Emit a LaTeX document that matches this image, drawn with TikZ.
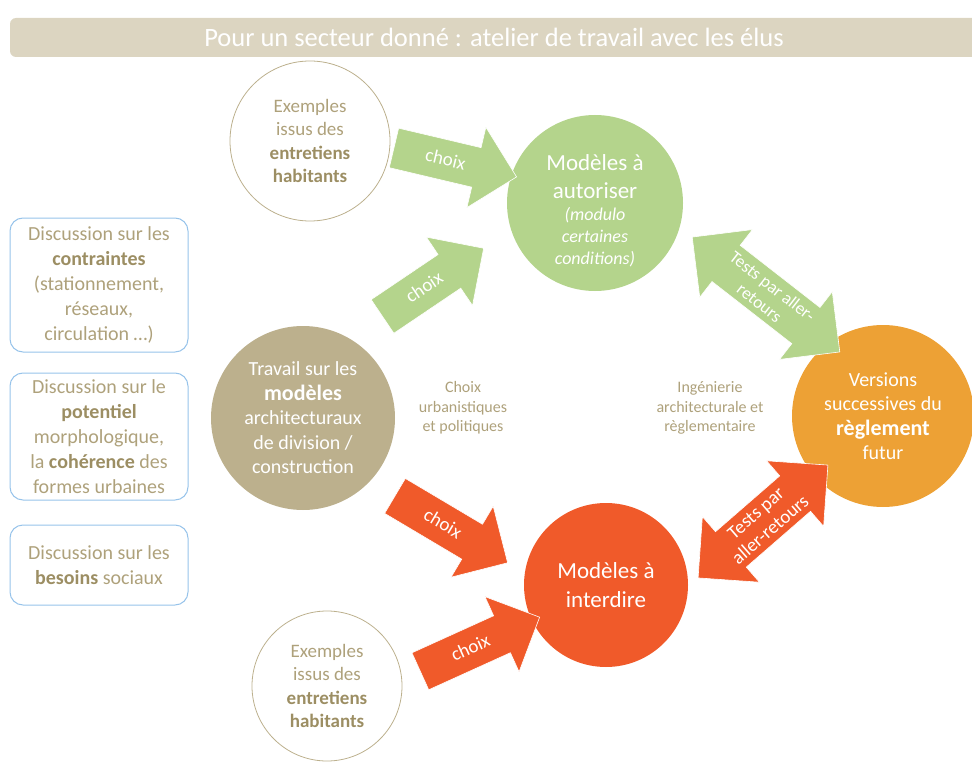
\documentclass[tikz,border=0pt]{standalone}
\usepackage{fontspec}
\setmainfont{Carlito}
\usepackage{tikz}
\usetikzlibrary{shapes.arrows, shapes.misc, positioning}
\definecolor{bandeau}{HTML}{DCD5C1}
\definecolor{beige}{HTML}{BCB08D}
\definecolor{beigetxt}{HTML}{AEA17B}
\definecolor{beigegras}{HTML}{9C8E63}
\definecolor{vertclair}{HTML}{B4D48C}
\definecolor{rougeor}{HTML}{F05A2A}
\definecolor{orangeclair}{HTML}{EDA135}
\definecolor{bleuclair}{HTML}{97C3EA}
\newcommand{\taille}[2]{\fontsize{#1}{#2}\selectfont}
\newcommand{\gras}[1]{{\bfseries\color{beigegras}#1}}
\newcommand{\petit}{\taille{18}{22}\itshape}

\begin{document}
\begin{tikzpicture}[x=1pt,y=-1pt,every node/.style={align=center,inner sep=0pt},
        rond/.style={circle,text=white,minimum size=#1},
        contour/.style={circle,draw=beige,line width=0.8pt,text=beigetxt,minimum size=#1,font=\taille{19}{23.5}},
        boite/.style={draw=bleuclair,line width=1pt,rounded corners=13pt,minimum width=178,text=beigetxt,font=\taille{20}{25}},
        fleche/.style={single arrow,single arrow head extend=21pt,inner xsep=4pt,inner ysep=13pt,
          text height=12.5pt,text depth=1.5pt,text=white,draw=white,line width=0.6pt,font=\taille{19}{22},anchor=tip},
        allerretour/.style={double arrow,double arrow head extend=20pt,inner xsep=4pt,inner ysep=6pt,
          text=white,draw=white,line width=0.6pt}]
        \tikzstyle{milieu}=[text=beigetxt,font=\taille{16}{19.5}]
        \useasboundingbox (0,0) rectangle (972,765);

        \node[fill=bandeau,rounded corners=6pt,minimum width=968,minimum height=39,text=white,font=\taille{26.5}{30}](titre) at (494,37.5){Pour un secteur donné : atelier de travail avec les élus};

        \node[boite,minimum height=134](contraintes) at (99,285){Discussion sur les\\\gras{contraintes}\\(stationnement,\\réseaux,\\circulation \ldots)};
        \node[boite,minimum height=127](potentiel) at (99,436.5){Discussion sur le\\\gras{potentiel}\\morphologique,\\la \gras{cohérence} des\\formes urbaines};
        \node[boite,minimum height=80](besoins) at (99,565){Discussion sur les\\\gras{besoins} sociaux};

        \node[contour=160](exemplesA) at (310,141){Exemples\\issus des\\\gras{entretiens}\\\gras{habitants}};
        \node[contour=150](exemplesB) at (327,686){Exemples\\issus des\\\gras{entretiens}\\\gras{habitants}};

        \node[rond=176,fill=vertclair](autoriser) at (595,203){};
        \node[text=white,font=\taille{23}{28},yshift=-8pt](autorisertxt) at (autoriser){Modèles à\\autoriser\\[-6pt]{\petit (modulo}\\[-6pt]{\petit certaines}\\[-6pt]{\petit conditions)}};
        \node[rond=184,fill=beige,font=\taille{20}{24.5}](travail) at (303,418){Travail sur les\\{\bfseries\taille{22}{24.5}modèles}\\architecturaux\\de division /\\construction};
        \node[rond=182,fill=orangeclair,font=\taille{20}{24.5}](reglement) at (883,416){Versions\\successives du\\{\bfseries\taille{22}{24.5}règlement}\\futur};
        \node[rond=164,fill=rougeor,font=\taille{23}{29}](interdire) at (606,585){Modèles à\\interdire};

        \node[milieu](urba) at (463,408){Choix\\urbanistiques\\et politiques};
        \node[milieu](inge) at (710,408){Ingénierie\\architecturale et\\règlementaire};

        \node[fleche,fill=vertclair,rotate=-13.3,minimum height=126](choixA) at (517,177){choix};
        \node[fleche,fill=vertclair,rotate=34,minimum height=122](choixB) at (484,248){choix};
        \node[fleche,fill=rougeor,rotate=-30.7,minimum height=131](choixC) at (508,563){choix};
        \node[fleche,fill=rougeor,rotate=24.4,minimum height=131](choixD) at (540,617){choix};

        \node[allerretour,fill=vertclair,rotate=-37.9,minimum height=187,font=\taille{17.5}{21}](testsA) at (766,294.5){Tests par aller-\\retours};
        \node[allerretour,fill=rougeor,rotate=41,minimum height=172,font=\taille{19}{22}](testsB) at (763,521.5){Tests par\\aller-retours};
      \end{tikzpicture}
\end{document}
